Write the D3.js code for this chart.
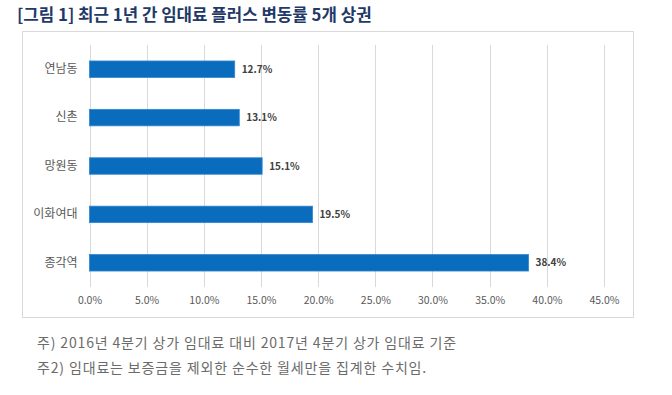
<!DOCTYPE html>
<html>
<head>
<meta charset="utf-8">
<script src="https://cdn.jsdelivr.net/npm/d3@7"></script>
<style>
  body { margin: 0; background: #fff; }
  text { font-family: "Noto Sans CJK KR", "Noto Sans", sans-serif; }
</style>
</head>
<body>
<div id="chart"></div>
<script>
// data
const categories = ["연남동", "신촌", "망원동", "이화여대", "종각역"];
const values = [12.7, 13.1, 15.1, 19.5, 38.4];
const xTicks = [0, 5, 10, 15, 20, 25, 30, 35, 40, 45];
const title = "[그림 1] 최근 1년 간 임대료 플러스 변동률 5개 상권";
const notes = [
  "주) 2016년 4분기 상가 임대료 대비 2017년 4분기 상가 임대료 기준",
  "주2) 임대료는 보증금을 제외한 순수한 월세만을 집계한 수치임."
];

let width = 672, height = 395;

let svg = d3.select("#chart").append("svg")
  .attr("width", width)
  .attr("height", height);

// title
svg.append("text")
  .attr("x", 17)
  .attr("y", 21)
  .attr("font-size", 16.8)
  .attr("font-weight", "bold")
  .attr("fill", "#1f3a68")
  .text(title);

// chart frame
svg.append("rect")
  .attr("x", 22.5)
  .attr("y", 31.5)
  .attr("width", 611)
  .attr("height", 286)
  .attr("fill", "#fff")
  .attr("stroke", "#d9d9d9")
  .attr("stroke-width", 1);

let x = d3.scaleLinear()
  .domain([0, 45])
  .range([89.5, 604]);

let y = d3.scaleBand()
  .domain(categories)
  .range([45, 287])
  .paddingInner(0.66)
  .paddingOuter(0.33);

// gridlines
svg.append("g")
  .selectAll("line")
  .data(xTicks)
  .join("line")
  .attr("x1", d => Math.round(x(d)) + 0.5)
  .attr("x2", d => Math.round(x(d)) + 0.5)
  .attr("y1", 45)
  .attr("y2", 287)
  .attr("stroke", "#d9d9d9")
  .attr("stroke-width", 1);

// x axis labels
let xAxis = svg.append("g")
  .attr("transform", "translate(0,287)")
  .call(d3.axisBottom(x).tickValues(xTicks).tickFormat(d => d.toFixed(1) + "%").tickSize(0).tickPadding(10));
xAxis.select(".domain").remove();
xAxis.selectAll("text")
  .attr("font-size", 10.5)
  .attr("fill", "#595959")
  .style("font-family", "\"Noto Sans CJK KR\", sans-serif");

// y axis labels
let yAxis = svg.append("g")
  .attr("transform", "translate(89.5,0)")
  .call(d3.axisLeft(y).tickSize(0).tickPadding(12));
yAxis.select(".domain").remove();
yAxis.selectAll("text")
  .attr("font-size", 12)
  .attr("fill", "#595959")
  .style("font-family", "\"Noto Sans CJK KR\", sans-serif");

// bars
svg.append("g")
  .selectAll("rect")
  .data(values)
  .join("rect")
  .attr("x", x(0))
  .attr("y", (d, i) => y(categories[i]))
  .attr("width", d => x(d) - x(0))
  .attr("height", y.bandwidth())
  .attr("fill", "#0a6cbd")
  .attr("stroke", "#2f86cf")
  .attr("stroke-width", 0.8);

// value labels
svg.append("g")
  .selectAll("text")
  .data(values)
  .join("text")
  .attr("x", d => x(d) + 7)
  .attr("y", (d, i) => y(categories[i]) + y.bandwidth() / 2)
  .attr("dy", "0.35em")
  .attr("font-size", 10)
  .attr("font-weight", "bold")
  .attr("fill", "#404040")
  .text(d => d.toFixed(1) + "%");

// footnotes
svg.append("g")
  .selectAll("text")
  .data(notes)
  .join("text")
  .attr("x", 37)
  .attr("y", (d, i) => 343 + i * 25)
  .attr("dy", "0.35em")
  .attr("font-size", 14)
  .attr("letter-spacing", 0.85)
  .attr("fill", "#6b6b6b")
  .text(d => d);
</script>
</body>
</html>
